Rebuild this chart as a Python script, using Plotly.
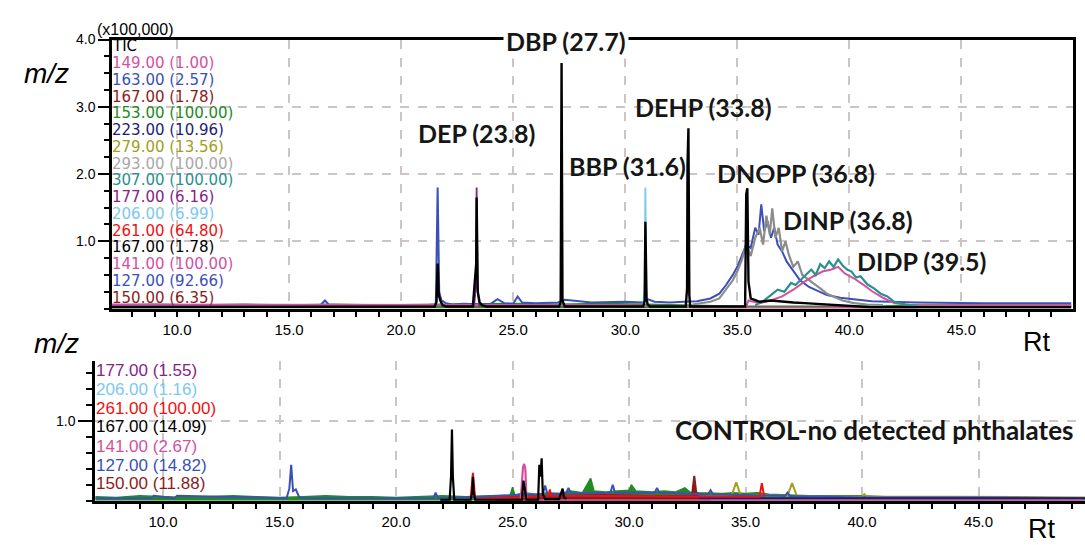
import plotly.graph_objects as go

W, H = 1085, 545


def px(x):
    return x / W


def py(y):
    return 1 - y / H


# ---------------- colours ----------------
C_PINK = "#d4509f"
C_BLUE = "#3a50b8"
C_DRED = "#8b1c1c"
C_GREEN = "#238a23"
C_NAVY = "#1c1c7a"
C_OLIVE = "#a0a020"
C_GRAY = "#8c8c8c"
C_GRAYTXT = "#a8a8a8"
C_TEAL = "#2a9090"
C_PURPLE = "#862486"
C_LBLUE = "#7cc8f0"
C_RED = "#ee1111"
C_BLACK = "#000000"

# ---------------- TOP panel data (Rt in min, intensity x100,000) ----------------
TOP_GREEN_T = [7.1, 9.0, 11.0, 13.0, 15.0, 17.0, 19.0, 21.0, 23.0, 25.0, 27.0, 29.0, 31.0, 33.0,
               35.0, 37.0, 39.0, 41.0, 43.0, 45.0, 47.0, 49.9]
TOP_GREEN_V = [0.05, 0.06, 0.05, 0.06, 0.05, 0.06, 0.05, 0.06, 0.06, 0.07, 0.06, 0.07, 0.06, 0.04,
               0.03, 0.03, 0.03, 0.03, 0.05, 0.05, 0.06, 0.05]

TOP_BLUE_T = [7.1, 12.0, 16.4, 16.6, 16.8, 21.0, 21.55, 21.63, 21.7, 21.8, 22.0, 22.3, 22.8, 23.5,
              24.0, 24.3, 24.6, 25.0, 25.2, 25.4, 26.0, 27.0, 27.3, 28.5, 30.0, 30.8, 31.0, 31.3,
              32.0, 32.6, 33.2, 33.8, 34.2, 34.5, 34.8, 35.0, 35.2, 35.4, 35.6, 35.8, 35.95, 36.07,
              36.2, 36.35, 36.5, 36.65, 36.8, 37.0, 37.2, 37.5, 37.8, 38.2, 38.6, 39.0, 39.6, 40.2,
              41.0, 43.0, 46.0, 49.9]
TOP_BLUE_V = [0.04, 0.05, 0.05, 0.12, 0.05, 0.05, 0.06, 1.80, 0.25, 0.12, 0.08, 0.06, 0.07, 0.06,
              0.07, 0.14, 0.08, 0.07, 0.18, 0.09, 0.08, 0.09, 0.13, 0.09, 0.10, 0.09, 0.14, 0.10,
              0.09, 0.10, 0.11, 0.15, 0.22, 0.35, 0.50, 0.62, 0.80, 0.95, 0.90, 1.20, 1.10, 1.55,
              1.15, 1.30, 1.05, 1.20, 0.95, 0.85, 0.70, 0.55, 0.42, 0.32, 0.26, 0.20, 0.16, 0.14,
              0.11, 0.09, 0.08, 0.08]

TOP_GRAY_T = [33.0, 33.8, 34.2, 34.5, 34.8, 35.0, 35.2, 35.4, 35.6, 35.8, 36.0, 36.15, 36.3, 36.45,
              36.56, 36.7, 36.85, 37.0, 37.15, 37.3, 37.5, 37.7, 37.9, 38.1, 38.4, 38.7, 39.0, 39.3,
              39.7, 40.2, 40.8, 41.5]
TOP_GRAY_V = [0.06, 0.10, 0.15, 0.28, 0.42, 0.55, 0.72, 0.95, 0.78, 1.05, 1.20, 0.95, 1.38, 1.10,
              1.49, 1.05, 1.20, 0.85, 1.00, 0.80, 0.62, 0.70, 0.50, 0.45, 0.38, 0.30, 0.22, 0.18,
              0.12, 0.08, 0.06, 0.05]

TOP_PINK_T = [7.1, 15.0, 21.0, 24.0, 27.0, 30.0, 33.0, 35.4, 35.5, 36.0, 36.5, 37.0, 37.5, 38.0,
              38.4, 38.8, 39.2, 39.5, 39.8, 40.2, 40.6, 41.0, 41.5, 42.0, 43.0, 45.0, 49.9]
TOP_PINK_V = [0.06, 0.06, 0.06, 0.05, 0.05, 0.05, 0.03, 0.03, 0.12, 0.08, 0.12, 0.18, 0.28, 0.40,
              0.48, 0.55, 0.58, 0.62, 0.52, 0.45, 0.36, 0.26, 0.16, 0.08, 0.04, 0.05, 0.05]
TOP_PINK_LOW_T = [33.0, 43.0]
TOP_PINK_LOW_V = [0.01, 0.01]

TOP_TEAL_T = [35.8, 36.2, 36.5, 36.8, 37.1, 37.4, 37.6, 37.9, 38.1, 38.3, 38.5, 38.7, 38.9, 39.1,
              39.3, 39.5, 39.7, 39.9, 40.1, 40.3, 40.5, 40.8, 41.1, 41.4, 41.7, 42.0, 42.5, 43.0]
TOP_TEAL_V = [0.05, 0.12, 0.20, 0.28, 0.25, 0.38, 0.35, 0.45, 0.52, 0.58, 0.50, 0.66, 0.60, 0.70,
              0.62, 0.73, 0.64, 0.58, 0.55, 0.46, 0.48, 0.36, 0.30, 0.22, 0.18, 0.10, 0.06, 0.04]

TOP_PURPLE_T = [23.25, 23.33, 23.37, 23.41, 23.5]
TOP_PURPLE_V = [0.02, 0.30, 1.80, 0.30, 0.02]

TOP_LBLUE_T = [30.8, 30.86, 30.9, 30.94, 31.0]
TOP_LBLUE_V = [0.05, 0.30, 1.80, 0.30, 0.05]

TOP_BLACK_T = [7.1, 21.5, 21.58, 21.63, 21.68, 21.75, 21.85, 22.0, 23.2, 23.3, 23.35, 23.37, 23.42,
               23.5, 23.6, 23.8, 27.05, 27.12, 27.16, 27.2, 27.3, 30.8, 30.87, 30.9, 30.95, 31.0,
               31.1, 32.7, 32.76, 32.78, 32.82, 32.86, 32.9, 35.35, 35.4, 35.45, 35.5, 35.6, 36.0,
               36.5, 37.0, 37.5, 38.0, 39.0, 40.0, 41.0, 49.9]
TOP_BLACK_V = [0.02, 0.03, 0.10, 0.67, 0.20, 0.12, 0.05, 0.03, 0.03, 0.40, 0.66, 1.65, 0.25,
               0.10, 0.05, 0.03, 0.03, 0.10, 3.65, 0.12, 0.03, 0.03, 0.12, 1.29, 0.15, 0.06,
               0.03, 0.03, 0.30, 2.14, 2.68, 0.20, 0.03, 0.03, 1.70, 1.79, 0.40, 0.15, 0.10,
               0.12, 0.10, 0.09, 0.08, 0.06, 0.04, 0.02, 0.02]

# ---------------- BOTTOM panel data (control) ----------------
BOT_GREEN_T = [7.1, 8.0, 9.0, 10.0, 11.0, 12.0, 13.0, 14.0, 15.0, 16.0, 17.0, 18.0, 19.0, 20.0,
               21.0, 22.0, 23.0, 24.0, 24.9, 25.0, 25.1, 25.5, 26.0, 26.5, 27.0, 27.5, 28.0, 28.2,
               28.35, 28.5, 29.0, 29.5, 30.0, 30.1, 30.3, 31.0, 31.5, 32.0, 32.4, 32.6, 33.0, 34.0,
               34.5, 35.0, 35.5, 36.0, 37.0, 38.0, 39.0, 40.0, 41.0, 43.0, 45.0, 47.0, 49.6]
BOT_GREEN_V = [0.05, 0.04, 0.06, 0.05, 0.04, 0.05, 0.06, 0.05, 0.04, 0.05, 0.06, 0.05, 0.05, 0.04,
               0.05, 0.06, 0.05, 0.06, 0.07, 0.17, 0.07, 0.10, 0.08, 0.10, 0.09, 0.12, 0.10, 0.20,
               0.28, 0.12, 0.11, 0.12, 0.13, 0.20, 0.12, 0.11, 0.12, 0.11, 0.16, 0.11, 0.10, 0.09,
               0.10, 0.09, 0.10, 0.08, 0.07, 0.06, 0.06, 0.06, 0.05, 0.04, 0.04, 0.03, 0.03]

BOT_DRED_T = [24.0, 25.0, 27.0, 29.0, 31.0, 32.7, 32.8, 32.9, 33.5]
BOT_DRED_V = [0.04, 0.06, 0.06, 0.07, 0.06, 0.06, 0.31, 0.06, 0.03]

BOT_OLIVE_T = [33.0, 34.4, 34.6, 34.8, 35.5, 36.8, 37.0, 37.2, 38.0, 40.0, 40.1, 40.2, 44.0, 49.6]
BOT_OLIVE_V = [0.05, 0.06, 0.23, 0.06, 0.07, 0.06, 0.22, 0.06, 0.05, 0.05, 0.08, 0.05, 0.05, 0.04]

BOT_BLUE_T = [7.1, 9.5, 9.6, 10.5, 10.6, 15.3, 15.42, 15.5, 15.58, 15.7, 15.85, 16.0, 21.6, 21.7,
              21.8, 26.3, 26.4, 26.5, 27.3, 27.4, 27.5, 29.2, 29.3, 29.4, 31.1, 31.2, 31.3, 33.4,
              33.5, 33.6, 36.7, 36.8, 36.9, 40.0, 45.0, 49.6]
BOT_BLUE_V = [0.03, 0.03, 0.06, 0.03, 0.06, 0.03, 0.15, 0.45, 0.12, 0.14, 0.04, 0.03, 0.03, 0.10,
              0.03, 0.08, 0.19, 0.08, 0.09, 0.16, 0.09, 0.10, 0.20, 0.10, 0.10, 0.16, 0.10, 0.08,
              0.13, 0.08, 0.06, 0.10, 0.06, 0.04, 0.04, 0.03]

BOT_NAVY_T = [33.0, 49.6]
BOT_NAVY_V = [0.03, 0.03]

BOT_RED_T = [23.2, 23.3, 23.4, 26.55, 26.6, 26.65, 35.6, 35.7, 35.8]
BOT_RED_V = [0.02, 0.35, 0.02, 0.06, 0.14, 0.06, 0.05, 0.22, 0.05]

BOT_PINK_T = [25.35, 25.45, 25.5, 25.55, 25.6, 49.5]
BOT_PINK_V = [0.01, 0.42, 0.46, 0.40, 0.005, 0.005]

BOT_BLACK_T = [21.9, 22.3, 22.36, 22.4, 22.44, 22.5, 23.2, 23.27, 23.3, 23.33, 23.4, 25.4, 25.47,
               25.5, 25.55, 25.6, 26.1, 26.15, 26.2, 26.25, 26.3, 26.4, 27.0, 27.1, 27.15, 27.2,
               27.3]
BOT_BLACK_V = [0.01, 0.01, 0.30, 0.89, 0.30, 0.01, 0.01, 0.10, 0.30, 0.10, 0.01, 0.01, 0.25,
               0.20, 0.10, 0.01, 0.01, 0.45, 0.30, 0.53, 0.08, 0.02, 0.02, 0.12, 0.15, 0.05, 0.02]

# ---------------- legend texts ----------------
TOP_LEGEND = [("TIC", C_BLACK), ("149.00 (1.00)", C_PINK), ("163.00 (2.57)", C_BLUE),
              ("167.00 (1.78)", C_DRED), ("153.00 (100.00)", C_GREEN), ("223.00 (10.96)", C_NAVY),
              ("279.00 (13.56)", C_OLIVE), ("293.00 (100.00)", C_GRAYTXT),
              ("307.00 (100.00)", C_TEAL), ("177.00 (6.16)", C_PURPLE), ("206.00 (6.99)", C_LBLUE),
              ("261.00 (64.80)", C_RED), ("167.00 (1.78)", C_BLACK), ("141.00 (100.00)", C_PINK),
              ("127.00 (92.66)", C_BLUE), ("150.00 (6.35)", C_DRED)]
BOT_LEGEND = [("177.00 (1.55)", C_PURPLE), ("206.00 (1.16)", C_LBLUE), ("261.00 (100.00)", C_RED),
              ("167.00 (14.09)", C_BLACK), ("141.00 (2.67)", C_PINK), ("127.00 (14.82)", C_BLUE),
              ("150.00 (11.88)", C_DRED)]

PEAK_LABELS = [("DBP (27.7)", 566, 33), ("DEP (23.8)", 477, 127), ("DEHP (33.8)", 703, 100),
               ("BBP (31.6)", 627, 160), ("DNOPP (36.8)", 796, 167), ("DINP (36.8)", 848, 215),
               ("DIDP (39.5)", 921, 257)]

X_TICKS = [10, 15, 20, 25, 30, 35, 40, 45]
X_TICKTEXT = ["10.0", "15.0", "20.0", "25.0", "30.0", "35.0", "40.0", "45.0"]

fig = go.Figure()


def add(t, v, color, width, top=True, fill=None):
    fig.add_trace(go.Scatter(
        x=t, y=v, mode="lines", line=dict(color=color, width=width),
        fill=fill, fillcolor=color if fill else None,
        xaxis="x" if top else "x2", yaxis="y" if top else "y2",
        hoverinfo="skip", showlegend=False))


# top panel
add(TOP_GREEN_T, TOP_GREEN_V, C_GREEN, 2, fill="tozeroy")
add(TOP_BLUE_T, TOP_BLUE_V, C_BLUE, 2)
add(TOP_GRAY_T, TOP_GRAY_V, C_GRAY, 2.2)
add(TOP_PINK_T, TOP_PINK_V, C_PINK, 2)
add(TOP_PINK_LOW_T, TOP_PINK_LOW_V, C_PINK, 2)
add(TOP_TEAL_T, TOP_TEAL_V, C_TEAL, 2.2)
add(TOP_PURPLE_T, TOP_PURPLE_V, C_PURPLE, 1.8)
add(TOP_LBLUE_T, TOP_LBLUE_V, C_LBLUE, 1.8)
add(TOP_BLACK_T, TOP_BLACK_V, C_BLACK, 2.4)

# bottom panel
add(BOT_GREEN_T, BOT_GREEN_V, C_GREEN, 1.5, top=False, fill="tozeroy")
add(BOT_DRED_T, BOT_DRED_V, C_DRED, 2, top=False, fill="tozeroy")
add(BOT_OLIVE_T, BOT_OLIVE_V, C_OLIVE, 2, top=False)
add(BOT_BLUE_T, BOT_BLUE_V, C_BLUE, 2, top=False)
add(BOT_NAVY_T, BOT_NAVY_V, C_NAVY, 2, top=False)
add(BOT_RED_T, BOT_RED_V, C_RED, 2, top=False)
add(BOT_PINK_T, BOT_PINK_V, C_PINK, 2.2, top=False)
add(BOT_BLACK_T, BOT_BLACK_V, C_BLACK, 2.2, top=False)

tickfont = dict(family="Liberation Sans", size=15, color="black")
grid = dict(showgrid=True, gridcolor="#cdc5c5", griddash="dash", gridwidth=1.5, zeroline=False)

xcommon = dict(tickmode="array", tickvals=X_TICKS, ticktext=X_TICKTEXT, ticks="outside",
               ticklen=6, tickwidth=1.5, tickcolor="black", showline=True, linewidth=2.5,
               linecolor="black", tickfont=tickfont,
               minor=dict(tickmode="linear", tick0=0, dtick=1, ticks="outside", ticklen=6,
                          tickwidth=1.5, tickcolor="black", showgrid=False),
               **grid)

annotations = []


def txt(text, x, y, size, color="black", family="Liberation Sans", xanchor="left", **kw):
    annotations.append(dict(text=text, x=px(x), y=py(y), xref="paper", yref="paper",
                            xanchor=xanchor, yanchor="middle", showarrow=False,
                            font=dict(family=family, size=size, color=color), **kw))


TOP_ROWS = [39, 56, 73, 90, 107, 124, 141, 158, 175, 192, 209, 226, 243, 260, 277, 294]
for (label, col), yy in zip(TOP_LEGEND, TOP_ROWS):
    txt(label, 110, yy, 15, col, family="DejaVu Sans")
BOT_ROWS = [368, 387, 406, 425, 445, 464, 483]
for (label, col), yy in zip(BOT_LEGEND, BOT_ROWS):
    txt(label, 94, yy, 17, col)

txt("(x100,000)", 95, 22, 16)
txt("<i>m/z</i>", 22, 66, 28)
txt("<i>m/z</i>", 32, 340, 28)
txt("Rt", 1021, 339, 27)
txt("Rt", 1026, 529, 27)

for label, cx, cy in PEAK_LABELS:
    txt("<b>" + label + "</b>", cx, cy, 25, "#161616", family="Lato", xanchor="center",
        bgcolor="white" if label.startswith("DBP") else None, borderpad=2)
txt("<b>CONTROL-no detected phthalates</b>", 874, 428, 26, "#161616", family="Lato",
    xanchor="center")

fig.update_layout(
    width=W, height=H, margin=dict(l=0, r=0, t=0, b=0),
    paper_bgcolor="white", plot_bgcolor="white",
    xaxis=dict(domain=[px(112), px(1073)], range=[7.1, 49.98], anchor="y", mirror=True, **xcommon),
    yaxis=dict(domain=[py(305), py(32)], range=[0, 4.0], anchor="x", tickmode="array",
               tickvals=[1, 2, 3, 4], ticktext=["1.0", "2.0", "3.0", "4.0"], ticks="outside",
               ticklen=11, tickwidth=1.5, tickcolor="black", showline=True, linewidth=2.5,
               linecolor="black", mirror=True, tickfont=dict(family="Liberation Sans", size=14,
                                                             color="black"),
               minor=dict(tickmode="linear", tick0=0, dtick=0.25, ticks="outside", ticklen=5,
                          tickwidth=1.5, tickcolor="black", showgrid=False),
               **grid),
    xaxis2=dict(domain=[px(95), 1.0], range=[7.08, 49.57], anchor="y2", **xcommon),
    yaxis2=dict(domain=[py(500), py(358)], range=[0, 1.753], anchor="x2", tickmode="array",
                tickvals=[1.0], ticktext=["1.0"], ticks="outside", ticklen=14, tickwidth=1.5,
                tickcolor="black", showline=True, linewidth=2.5, linecolor="black",
                tickfont=dict(family="Liberation Sans", size=14, color="black"),
                minor=dict(tickmode="linear", tick0=0, dtick=0.2, ticks="outside", ticklen=6,
                           tickwidth=1.5, tickcolor="black", showgrid=False),
                **grid),
    annotations=annotations,
)

fig.write_html("out.html")
